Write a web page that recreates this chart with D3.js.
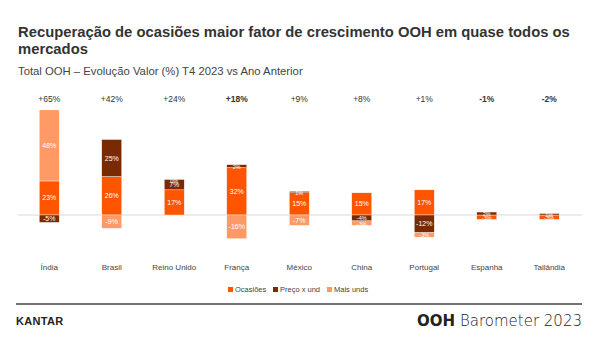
<!DOCTYPE html>
<html><head><meta charset="utf-8">
<script src="https://cdn.jsdelivr.net/npm/d3@7"></script>
<style>body{margin:0;background:#fff;font-family:"Liberation Sans",Arial,sans-serif;}</style>
</head><body><svg id="c" width="600" height="338"></svg>
<script>
const categories = ["Índia","Brasil","Reino Unido","França","México","China","Portugal","Espanha","Tailândia"];
const ocasioes = [23, 26, 17, 32, 15, 15, 17, -3, -3];
const precoUnd = [-5, 25, 7, 2, 1, -4, -12, 2, 1];
const maisUnds = [48, -9, 0, -16, -7, -3, -3, 0, 0];
const totals = ["+65%","+42%","+24%","+18%","+9%","+8%","+1%","-1%","-2%"];
const boldTotals = [false,false,false,true,false,false,false,true,true];
const seriesNames = ["Ocasiões","Preço x und","Mais unds"];
const seriesKeys = ["oc","pr","mu"];
const colors = ["#FF5500","#7A2A00","#FF9A66"];

const data = categories.map((c,i)=>({cat:c, oc:ocasioes[i], pr:precoUnd[i], mu:maisUnds[i]}));
const svg = d3.select("#c");

svg.append("text").attr("x",18).attr("y",37).attr("font-size",14.8).attr("font-weight","bold").attr("fill","#333")
  .text("Recuperação de ocasiões maior fator de crescimento OOH em quase todos os");
svg.append("text").attr("x",18).attr("y",54).attr("font-size",14.8).attr("font-weight","bold").attr("fill","#333")
  .text("mercados");
svg.append("text").attr("x",18).attr("y",75).attr("font-size",11.3).attr("fill","#444")
  .text("Total OOH – Evolução Valor (%) T4 2023 vs Ano Anterior");

const x = d3.scaleBand().domain(categories).range([18,580.5]).paddingInner(0.68).paddingOuter(0.34);
const y = d3.scaleLinear().domain([-20,80]).range([244.6,96.6]);

svg.append("line").attr("x1",18).attr("x2",582).attr("y1",y(0)).attr("y2",y(0)).attr("stroke","#d9d9d9").attr("stroke-width",1);

const stack = d3.stack().keys(seriesKeys).offset(d3.stackOffsetDiverging);
const layers = stack(data);
const posTop = data.map(d=>seriesKeys.reduce((s,k)=>s+Math.max(0,d[k]),0));

layers.forEach((layer,li)=>{
  const g = svg.append("g");
  g.selectAll("rect").data(layer).join("rect")
    .attr("x",d=>x(d.data.cat)).attr("width",x.bandwidth())
    .attr("y",d=>y(Math.max(d[0],d[1]))).attr("height",d=>Math.abs(y(d[0])-y(d[1])))
    .attr("fill",colors[li]).attr("stroke","#fff").attr("stroke-width",0.4);
  g.selectAll("text").data(layer.filter(d=>d.data[seriesKeys[li]]!==0 || (d.data.cat==="Reino Unido" && li===2))).join("text")
    .attr("x",d=>x(d.data.cat)+x.bandwidth()/2)
    .attr("y",d=>{
      const v=d.data[seriesKeys[li]];
      if(v===0) return y(posTop[categories.indexOf(d.data.cat)])+3.5;
      return (y(d[0])+y(d[1]))/2+2.5;})
    .attr("text-anchor","middle")
    .attr("font-size",d=>Math.abs(d.data[seriesKeys[li]])<5?5.5:7).attr("fill","#fff")
    .text(d=>d.data[seriesKeys[li]]+"%");
});

svg.append("g").selectAll("text").data(categories).join("text")
  .attr("x",d=>x(d)+x.bandwidth()/2).attr("y",270).attr("text-anchor","middle")
  .attr("font-size",8).attr("fill","#444").text(d=>d);

svg.append("g").selectAll("text").data(categories).join("text")
  .attr("x",d=>x(d)+x.bandwidth()/2).attr("y",102).attr("text-anchor","middle")
  .attr("font-size",8.5).attr("fill","#333").attr("font-weight",(d,i)=>boldTotals[i]?"bold":"normal")
  .text((d,i)=>totals[i]);

const legX = [228, 273, 327];
const leg = svg.append("g");
seriesNames.forEach((n,i)=>{
  leg.append("rect").attr("x",legX[i]).attr("y",287).attr("width",5).attr("height",5).attr("fill",colors[i]);
  leg.append("text").attr("x",legX[i]+7).attr("y",292).attr("font-size",7.5).attr("fill","#444").text(n);
});

svg.append("line").attr("x1",16).attr("x2",582).attr("y1",304).attr("y2",304).attr("stroke","#444").attr("stroke-width",1.5);
svg.append("text").attr("x",16).attr("y",325).attr("font-size",11).attr("font-weight","bold").attr("fill","#222")
  .attr("letter-spacing",0.3).text("KANTAR");
const ft = svg.append("text").attr("x",582).attr("y",326).attr("text-anchor","end").attr("font-size",15).attr("fill","#222")
  .attr("font-family","'DejaVu Sans',sans-serif");
ft.append("tspan").attr("font-weight","bold").text("OOH");
ft.append("tspan").attr("font-weight","300").text(" Barometer 2023");
</script></body></html>
